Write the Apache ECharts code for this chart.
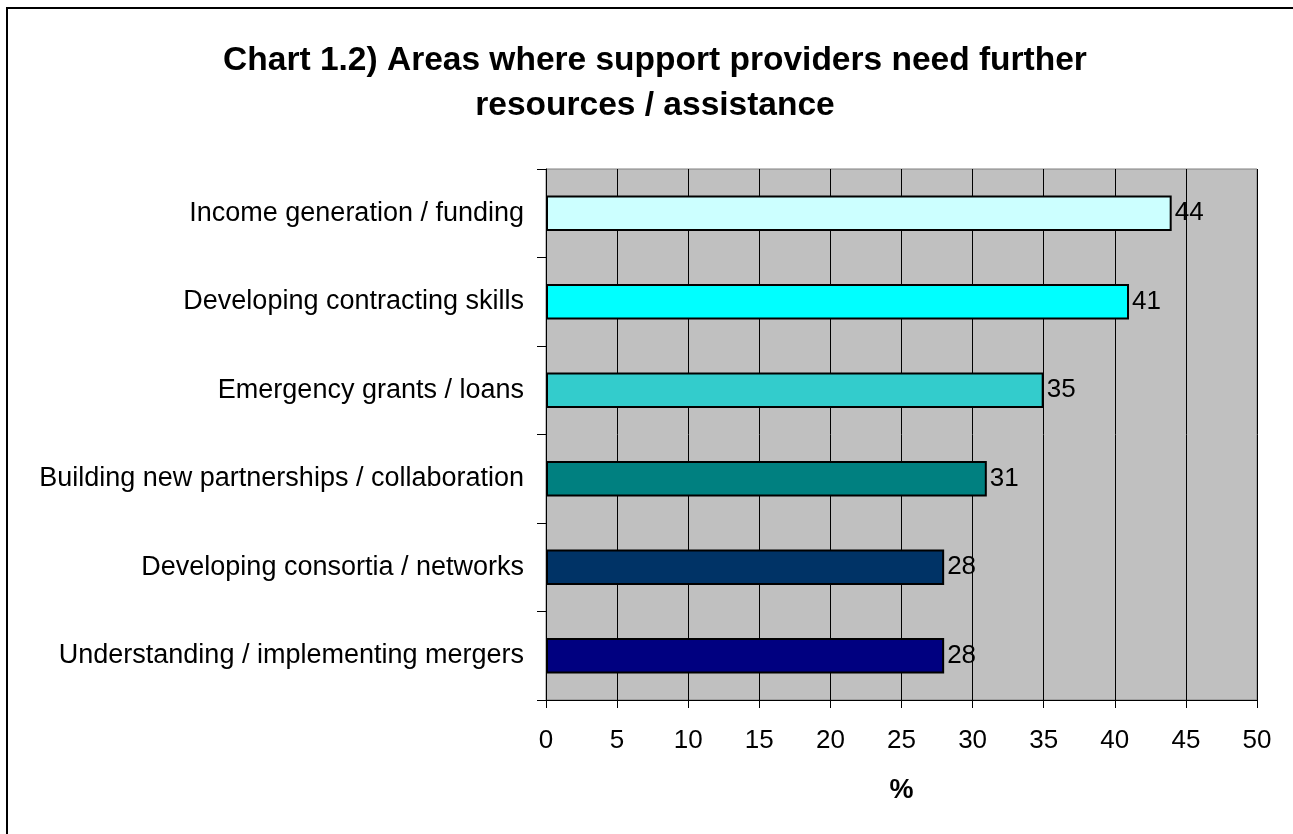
<!DOCTYPE html>
<html>
<head>
<meta charset="utf-8">
<script src="https://cdn.jsdelivr.net/npm/echarts@6/dist/echarts.min.js"></script>
<style>html,body{margin:0;padding:0;background:#fff;}#c{width:1293px;height:834px;}</style>
</head>
<body>
<div id="c"></div>
<script>
const categories = [
  "Income generation / funding",
  "Developing contracting skills",
  "Emergency grants / loans",
  "Building new partnerships / collaboration",
  "Developing consortia / networks",
  "Understanding / implementing mergers"
];
const values = [44, 41, 35, 31, 28, 28];
const barColors = ["#CCFFFF", "#00FFFF", "#33CCCC", "#008080", "#003366", "#000080"];
const xTicks = [0, 5, 10, 15, 20, 25, 30, 35, 40, 45, 50];

const font = "'Liberation Sans', Arial, sans-serif";
const chart = echarts.init(document.getElementById('c'), null, {renderer: 'canvas'});
chart.setOption({
  animation: false,
  backgroundColor: '#fff',
  title: {
    text: 'Chart 1.2) Areas where support providers need further\nresources / assistance',
    left: 650, textAlign: 'center', top: 33,
    textStyle: {fontFamily: font, fontSize: 33.5, fontWeight: 'bold', color: '#000', lineHeight: 45}
  },
  graphic: [{
    type: 'rect', shape: {x: 7, y: 8, width: 1400, height: 1000},
    style: {fill: 'none', stroke: '#000', lineWidth: 2}, z: 100
  }],
  grid: {
    left: 546, right: 36, top: 169, bottom: 134,
    show: true, backgroundColor: '#C0C0C0', borderColor: '#808080', borderWidth: 1
  },
  xAxis: {
    type: 'value', min: xTicks[0], max: xTicks[xTicks.length - 1], interval: 5,
    name: '%', nameLocation: 'middle', nameGap: 77,
    nameTextStyle: {fontFamily: font, fontSize: 27, fontWeight: 'bold', color: '#000'},
    axisLine: {show: true, lineStyle: {color: '#000', width: 1}},
    axisTick: {show: true, length: 8, lineStyle: {color: '#000'}},
    axisLabel: {fontFamily: font, fontSize: 26, color: '#000', margin: 28},
    splitLine: {show: true, lineStyle: {color: '#000', width: 1}}
  },
  yAxis: {
    type: 'category', data: categories, inverse: true,
    axisLine: {show: true, lineStyle: {color: '#000', width: 1}},
    axisTick: {show: true, length: 9, lineStyle: {color: '#000'}},
    axisLabel: {fontFamily: font, fontSize: 27, color: '#000', margin: 22},
    splitLine: {show: false}
  },
  series: [{
    type: 'bar',
    data: values.map((v, i) => ({value: v, itemStyle: {color: barColors[i]}})),
    barWidth: '40%',
    itemStyle: {borderColor: '#000', borderWidth: 2},
    label: {show: true, position: 'right', distance: 3, fontFamily: font, fontSize: 26, color: '#000'}
  }]
});
</script>
</body>
</html>
